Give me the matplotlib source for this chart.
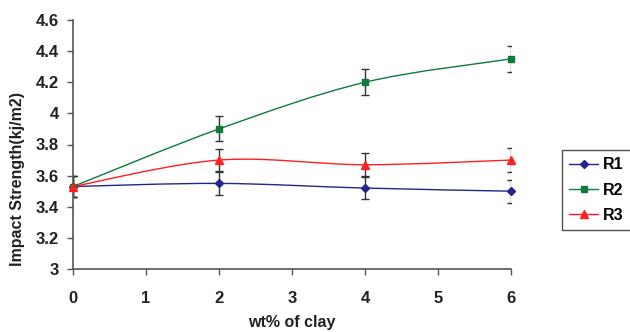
import numpy as np
import matplotlib
matplotlib.use('Agg')
import matplotlib.pyplot as plt
from matplotlib.path import Path
from matplotlib.patches import PathPatch
from matplotlib.lines import Line2D

plt.rcParams['font.family'] = ['Liberation Sans', 'DejaVu Sans']
plt.rcParams['font.weight'] = 'bold'

# data
clay = [0, 2, 4, 6]
r1 = [3.53, 3.55, 3.52, 3.50]
r2 = [3.53, 3.90, 4.20, 4.35]
r3 = [3.53, 3.70, 3.67, 3.70]
r1_err = [0.07, 0.075, 0.07, 0.075]
r2_err = [0.07, 0.08, 0.085, 0.085]
r3_err = [0.07, 0.07, 0.075, 0.075]
labels = ['R1', 'R2', 'R3']


def smooth_path(x, y):
    """Excel-style smoothed line as cubic bezier path through the points"""
    p = np.column_stack([x, y]).astype(float)
    n = len(p)
    verts = [p[0]]
    codes = [Path.MOVETO]
    for i in range(n - 1):
        p0 = p[i - 1] if i > 0 else p[i]
        p3 = p[i + 2] if i + 2 < n else p[i + 1]
        c1 = p[i] + (p[i + 1] - p0) / 6
        c2 = p[i + 1] - (p3 - p[i]) / 6
        verts += [c1, c2, p[i + 1]]
        codes += [Path.CURVE4] * 3
    return Path(verts, codes)


fig = plt.figure(figsize=(6.3, 3.32), dpi=100)
ax = fig.add_axes([73 / 630, 1 - 269 / 332, 438 / 630, 249 / 332])

series = [
    (r1, r1_err, '#24248a', 'D', 4),
    (r2, r2_err, '#0e7a3c', 's', 5),
    (r3, r3_err, '#ff1f1f', '^', 6),
]

handles = []
for (vals, err, col, mk, ms), lab in zip(series, labels):
    ax.errorbar(clay, vals, yerr=err, fmt='none', ecolor='#333333',
                elinewidth=1.0, capsize=3, capthick=1.0, zorder=2)
    ax.add_patch(PathPatch(smooth_path(clay, vals), facecolor='none',
                           edgecolor=col, lw=1.0, zorder=3))
    ax.plot(clay, vals, ls='none', marker=mk, color=col, ms=ms, zorder=4,
            clip_on=False)
    handles.append(Line2D([], [], color=col, marker=mk, ms=ms, lw=1.0))

ax.set_xlim(0, 6)
ax.set_ylim(3, 4.6)
ax.set_xticks(range(0, 7))
ax.set_yticks([3, 3.2, 3.4, 3.6, 3.8, 4, 4.2, 4.4, 4.6])
ax.set_yticklabels(['3', '3.2', '3.4', '3.6', '3.8', '4', '4.2', '4.4', '4.6'])

for s in ['top', 'right']:
    ax.spines[s].set_visible(False)
for s in ['left', 'bottom']:
    ax.spines[s].set_color('#555555')
    ax.spines[s].set_linewidth(1.2)
ax.tick_params(axis='both', direction='out', length=4, width=1.0,
               color='#555555', labelsize=12, labelcolor='#222222')
ax.tick_params(axis='x', pad=12)
ax.tick_params(axis='y', pad=6)

ax.set_xlabel('wt% of clay', fontsize=11.5, fontweight='bold', color='#222222')
ax.xaxis.set_label_coords(0.5, -0.185)
ax.set_ylabel('Impact Strength(kj/m2)', fontsize=11.5, fontweight='bold',
              color='#222222')
ax.yaxis.set_label_coords(-0.11, 0.363)

leg = fig.legend(handles, labels, loc='upper left',
                 bbox_to_anchor=(562 / 630, 1 - 150 / 332),
                 fontsize=11.5, frameon=True, fancybox=False,
                 edgecolor='#222222', handlelength=1.8, labelspacing=0.65,
                 borderpad=0.45, handletextpad=0.3, borderaxespad=0)
leg.get_frame().set_linewidth(1.0)

fig.savefig('out.png', dpi=100)
